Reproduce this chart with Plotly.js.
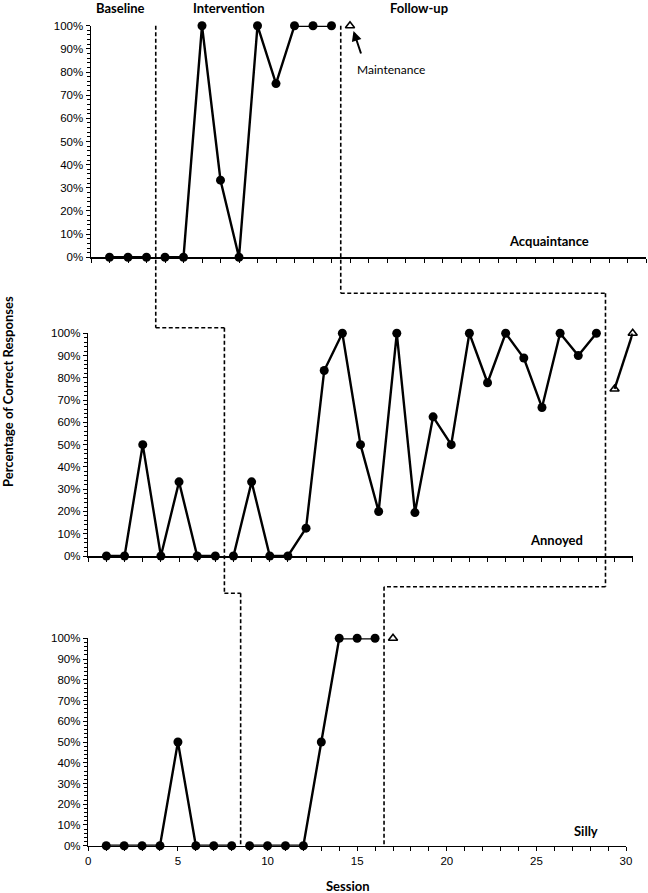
<!DOCTYPE html>
<html>
<head>
<meta charset="utf-8">
<script src="https://cdn.plot.ly/plotly-3.0.1.min.js"></script>
<style>html,body{margin:0;padding:0;background:#fff;}#chart{width:648px;height:893px;}</style>
</head>
<body>
<div id="chart"></div>
<script>
// ---------------- DATA ----------------
const sessionsMax = 30;
const xTickStep = 5;
const yTickStep = 10;
const yTickSuffix = '%';

// Acquaintance (top)
const acqBaselineStart = 1;
const acqBaseline = [0, 0, 0];
const acqInterventionStart = 4;
const acqIntervention = [0, 0, 100, 33.3, 0, 100, 75, 100, 100, 100];
const acqFollowStart = 14;
const acqFollow = [100];

// Annoyed (middle)
const annBaselineStart = 1;
const annBaseline = [0, 0, 50, 0, 33.3, 0, 0];
const annInterventionStart = 8;
const annIntervention = [0, 33.3, 0, 0, 12.5, 83.3, 100, 50, 20, 100, 19.5, 62.5, 50, 100, 77.8, 100, 88.9, 66.7, 100, 90, 100];
const annFollowStart = 29;
const annFollow = [75, 100];

// Silly (bottom)
const silBaselineStart = 1;
const silBaseline = [0, 0, 0, 0, 50, 0, 0, 0];
const silInterventionStart = 9;
const silIntervention = [0, 0, 0, 0, 50, 100, 100, 100];
const silFollowStart = 17;
const silFollow = [100];

// phase-change lines (session positions)
const phaseTop = [3.5, 13.5];
const phaseMid = [7.5, 28.5];
const phaseBot = [8.5, 16.5];

// ---------------- LAYOUT GEOMETRY ----------------
const W = 648, H = 893;
const geo = {
  top: {x0: 91, x1: 646, yb: 257.3, yt: 25.7},
  mid: {x0: 88.3, x1: 632.7, yb: 556, yt: 333.3},
  bot: {x0: 88.3, x1: 626, yb: 845.7, yt: 638.3}
};
const fx = px => px / W;
const fy = py => 1 - py / H;
const sx = (p, s) => fx(geo[p].x0 + s / sessionsMax * (geo[p].x1 - geo[p].x0));

const seq = (start, arr) => arr.map((_, i) => start + i);

const lineStyle = {color: '#000', width: 2.4};
const circ = {symbol: 'circle', size: 9, color: '#000'};
const tri = {symbol: 'triangle-up-open', size: 8, color: '#000', line: {width: 1.6, color: '#000'}};

function tr(xa, ya, start, arr, marker, mode) {
  return {x: seq(start, arr), y: arr, xaxis: xa, yaxis: ya, mode: mode || 'lines+markers',
    line: lineStyle, marker: marker, cliponaxis: false, showlegend: false, hoverinfo: 'skip'};
}

const data = [
  tr('x', 'y', acqBaselineStart, acqBaseline, circ),
  tr('x', 'y', acqInterventionStart, acqIntervention, circ),
  tr('x', 'y', acqFollowStart, acqFollow, tri, 'markers'),
  tr('x2', 'y2', annBaselineStart, annBaseline, circ),
  tr('x2', 'y2', annInterventionStart, annIntervention, circ),
  tr('x2', 'y2', annFollowStart, annFollow, tri),
  tr('x3', 'y3', silBaselineStart, silBaseline, circ),
  tr('x3', 'y3', silInterventionStart, silIntervention, circ),
  tr('x3', 'y3', silFollowStart, silFollow, tri, 'markers')
];

const tickFont = {family: 'Liberation Sans, Arial, sans-serif', size: 11.5, color: '#000'};

function xAxis(p, anchor, labels) {
  return {
    domain: [fx(geo[p].x0), fx(geo[p].x1)], anchor: anchor, range: [0, sessionsMax],
    showline: true, linecolor: '#000', linewidth: 1.5, showgrid: false, zeroline: false,
    tickmode: 'linear', tick0: 0, dtick: xTickStep, ticks: 'outside', ticklen: 4, tickwidth: 1, tickcolor: '#000',
    minor: {tickmode: 'linear', tick0: 0, dtick: 1, ticks: 'outside', ticklen: 4, tickwidth: 1, tickcolor: '#000', showgrid: false},
    showticklabels: labels, tickfont: tickFont, fixedrange: true
  };
}
function yAxis(p, anchor) {
  return {
    domain: [fy(geo[p].yb), fy(geo[p].yt)], anchor: anchor, range: [0, 100],
    showline: true, linecolor: '#000', linewidth: 1.5, showgrid: false, zeroline: false,
    tickmode: 'linear', tick0: 0, dtick: yTickStep, ticksuffix: yTickSuffix, ticks: 'outside', ticklen: 4, tickwidth: 1, tickcolor: '#000',
    minor: {tickmode: 'linear', tick0: 0, dtick: 2, ticks: 'outside', ticklen: 3, tickwidth: 1, tickcolor: '#000', showgrid: false},
    tickfont: tickFont, fixedrange: true
  };
}

// dashed phase-change staircase lines
const dashStyle = {color: '#000', width: 1.6, dash: '4px,2.5px'};
function seg(x0, y0, x1, y1) {
  return {type: 'line', xref: 'paper', yref: 'paper', x0: x0, y0: fy(y0), x1: x1, y1: fy(y1), line: dashStyle};
}
const yStep1a = 327.7, yStep1b = 593.3;
const yStep2a = 293.3, yStep2b = 586.7;
const shapes = [
  seg(sx('top', phaseTop[0]), 25.7, sx('top', phaseTop[0]), yStep1a),
  seg(sx('top', phaseTop[0]), yStep1a, sx('mid', phaseMid[0]), yStep1a),
  seg(sx('mid', phaseMid[0]), yStep1a, sx('mid', phaseMid[0]), yStep1b),
  seg(sx('mid', phaseMid[0]), yStep1b, sx('bot', phaseBot[0]), yStep1b),
  seg(sx('bot', phaseBot[0]), yStep1b, sx('bot', phaseBot[0]), 846),
  seg(sx('top', phaseTop[1]), 25.7, sx('top', phaseTop[1]), yStep2a),
  seg(sx('top', phaseTop[1]), yStep2a, sx('mid', phaseMid[1]), yStep2a),
  seg(sx('mid', phaseMid[1]), yStep2a, sx('mid', phaseMid[1]), yStep2b),
  seg(sx('mid', phaseMid[1]), yStep2b, sx('bot', phaseBot[1]), yStep2b),
  seg(sx('bot', phaseBot[1]), yStep2b, sx('bot', phaseBot[1]), 846)
];

const lblFont = {family: 'Lato, Open Sans, sans-serif', size: 13, color: '#000', weight: 'bold'};
const lblFontReg = {family: 'Lato, Open Sans, sans-serif', size: 12, color: '#000'};
function ann(text, px, py, font, extra) {
  return Object.assign({text: text, xref: 'paper', yref: 'paper', x: fx(px), y: fy(py),
    xanchor: 'center', yanchor: 'middle', showarrow: false, font: font}, extra || {});
}
const annotations = [
  ann('<b>Baseline</b>', 120, 8, lblFont),
  ann('<b>Intervention</b>', 229, 8, lblFont),
  ann('<b>Follow-up</b>', 419, 8, lblFont),
  ann('Maintenance', 391, 69.5, lblFontReg),
  ann('<b>Acquaintance</b>', 549, 241, lblFont),
  ann('<b>Annoyed</b>', 556, 540, lblFont),
  ann('<b>Silly</b>', 585.5, 830.5, lblFont),
  ann('<b>Session</b>', 348, 886, lblFont),
  ann('<b>Percentage of Correct Responses</b>', 8, 392, lblFont, {textangle: -90}),
  {text: '', xref: 'paper', yref: 'paper', x: fx(353.5), y: fy(31), showarrow: true,
    ax: 8, ay: 24, arrowhead: 2, arrowsize: 1, arrowwidth: 2, arrowcolor: '#000'}
];

const layout = {
  width: W, height: H, margin: {l: 0, r: 0, t: 0, b: 0},
  paper_bgcolor: '#fff', plot_bgcolor: 'rgba(0,0,0,0)', showlegend: false,
  xaxis: xAxis('top', 'y', false), yaxis: yAxis('top', 'x'),
  xaxis2: xAxis('mid', 'y2', false), yaxis2: yAxis('mid', 'x2'),
  xaxis3: xAxis('bot', 'y3', true), yaxis3: yAxis('bot', 'x3'),
  shapes: shapes, annotations: annotations
};

Plotly.newPlot('chart', data, layout, {staticPlot: true, displayModeBar: false});
</script>
</body>
</html>
